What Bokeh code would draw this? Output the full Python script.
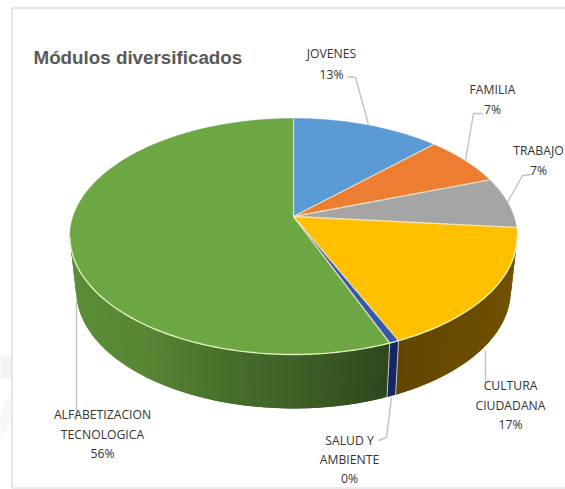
import math
from bokeh.plotting import figure
from bokeh.models import Range1d
from bokeh.core.properties import value
from bokeh.embed import file_html
from bokeh.resources import INLINE

# ---- data ----
categories = ["JOVENES", "FAMILIA", "TRABAJO", "CULTURA CIUDADANA", "SALUD Y AMBIENTE", "ALFABETIZACION TECNOLOGICA"]
values = [12.6, 6.9, 7.0, 16.9, 0.6, 56.0]
percent_labels = ["13%", "7%", "7%", "17%", "0%", "56%"]
title = "Módulos diversificados"

# ---- styles ----
top_colors = ["#5b9bd5", "#ed7d31", "#a5a5a5", "#ffc000", "#3558a8", "#6ca744"]
side_stops = {
    3: [(398, (98, 70, 0)), (510, (112, 80, 0))],
    4: [(391, (22, 38, 100)), (398, (22, 38, 100))],
    5: [(76, (90, 140, 55)), (140, (88, 135, 52)), (230, (70, 110, 42)), (320, (58, 90, 36)), (391, (46, 70, 30))],
}
CX, CY, A, B, K = 293.0, 216.0, 220.3, 114.6, 0.1695
DEPTH, SIDE_SCALE = 54.0, 0.972

def rim(theta):
    u, v = math.sin(theta), math.cos(theta)
    d = 1 + K * v
    return CX + A * u / d, CY - B * v / d

def low(theta):
    x, y = rim(theta)
    return CX + (x - CX) * SIDE_SCALE, y + DEPTH

def side_colour(stops, x):
    if x <= stops[0][0]:
        c = stops[0][1]
    elif x >= stops[-1][0]:
        c = stops[-1][1]
    else:
        for (x0, c0), (x1, c1) in zip(stops, stops[1:]):
            if x0 <= x <= x1:
                t = (x - x0) / (x1 - x0)
                c = tuple(c0[i] + (c1[i] - c0[i]) * t for i in range(3))
                break
    return "#%02x%02x%02x" % tuple(int(round(v)) for v in c)

p = figure(width=565, height=489, x_range=Range1d(0, 565), y_range=Range1d(489, 0),
           x_axis_type=None, y_axis_type=None, toolbar_location=None,
           output_backend="svg", min_border=0, outline_line_color=None,
           background_fill_color="white", border_fill_color="white")
p.grid.visible = False

# faint watermark left of the frame
p.patch([0, 11, 11, 0], [355, 355, 378, 378], fill_color="#f6f4f2", line_color=None)
p.patch([0, 11, 11, 0], [412, 392, 420, 440], fill_color="#f8f7f6", line_color=None)

# frame of the chart
p.line([11.5, 11.5, 565], [487, 7.5, 7.5], line_color="#dedede", line_width=1.5)
p.line([11.5, 565], [487.5, 487.5], line_color="#e4e4e4", line_width=1.5)

# slice angles
total = sum(values)
edges = [0.0]
for v in values:
    edges.append(edges[-1] + v / total * 2 * math.pi)

side_a = math.radians(100)
side_b = math.radians(260)

# sides (front walls) as thin shaded strips, each overlapping its neighbour
for i, stops in side_stops.items():
    a = max(edges[i], side_a)
    b = min(edges[i + 1], side_b)
    n = max(2, int((b - a) / math.radians(1.2)))
    xs, ys, cols = [], [], []
    for j in range(n):
        t0 = a + (b - a) * j / n
        t1 = a + (b - a) * min(j + 2, n) / n
        tm = a + (b - a) * (j + 0.5) / n
        x0, y0 = rim(t0); x1, y1 = rim(t1)
        x2, y2 = low(t1); x3, y3 = low(t0)
        xs.append([x0, x1, x2, x3]); ys.append([y0, y1, y2, y3])
        cols.append(side_colour(stops, rim(tm)[0]))
    p.patches(xs, ys, fill_color=cols, line_color=None)

# top surface
for i, col in enumerate(top_colors):
    n = max(2, int((edges[i + 1] - edges[i]) / math.radians(1)))
    pts = [rim(edges[i] + (edges[i + 1] - edges[i]) * j / n) for j in range(n + 1)]
    xs = [CX] + [q[0] for q in pts]
    ys = [CY] + [q[1] for q in pts]
    p.patch(xs, ys, fill_color=col, line_color=col, line_width=0.5)

# pale slice borders
for i, e in enumerate(edges[:-1]):
    x, y = rim(e)
    p.line([CX, x], [CY, y], line_color="#f3e9cf" if i else "#cfe6f7", line_width=1.3, line_alpha=0.85)
    lx, ly = low(e)
    if side_a < e < side_b:
        p.line([x, lx], [y, ly], line_color="#dfe3ea", line_width=1, line_alpha=0.8)

# pale highlight along the front rim
front = [side_a + (side_b - side_a) * j / 120 for j in range(121)]
p.line([rim(t)[0] for t in front], [rim(t)[1] for t in front], line_color="#e0f0bc", line_width=1.4)

# leader lines
leaders = [
    ([347, 355, 368], [76, 77, 124]),
    ([482, 473, 465], [113, 113, 160]),
    ([531, 522, 507], [174, 175, 202]),
    ([485, 485], [350, 382]),
    ([391, 386, 378], [397, 437, 440]),
    ([76, 76], [300, 420]),
]
for lx, ly in leaders:
    p.line(lx, ly, line_color="#c2c2c2", line_width=1.4)

# labels
label_lines = [
    ["JOVENES"], ["FAMILIA"], ["TRABAJO"], ["CULTURA", "CIUDADANA"],
    ["SALUD Y", "AMBIENTE"], ["ALFABETIZACION", "TECNOLOGICA"],
]
label_pos = [(331, 53, 21), (492, 89, 20), (538, 150, 20), (510, 385, 19.5), (349, 440, 19), (102, 414, 19.5)]
lab_x, lab_y, lab_t = [], [], []
for lines, pct, (x, y, step) in zip(label_lines, percent_labels, label_pos):
    for k, t in enumerate(lines + [pct]):
        lab_x.append(x); lab_y.append(y + k * step); lab_t.append(t)
p.text(lab_x, lab_y, text=lab_t, text_font=value("Open Sans"), text_font_size="12.2px",
       text_color="#333333", text_align="center", text_baseline="middle")

p.text([33], [57], text=[title], text_font=value("Liberation Sans"), text_font_size="18.8px",
       text_font_style="bold", text_color="#595959", text_align="left", text_baseline="middle")

open("out.html", "w").write(file_html(p, INLINE))
